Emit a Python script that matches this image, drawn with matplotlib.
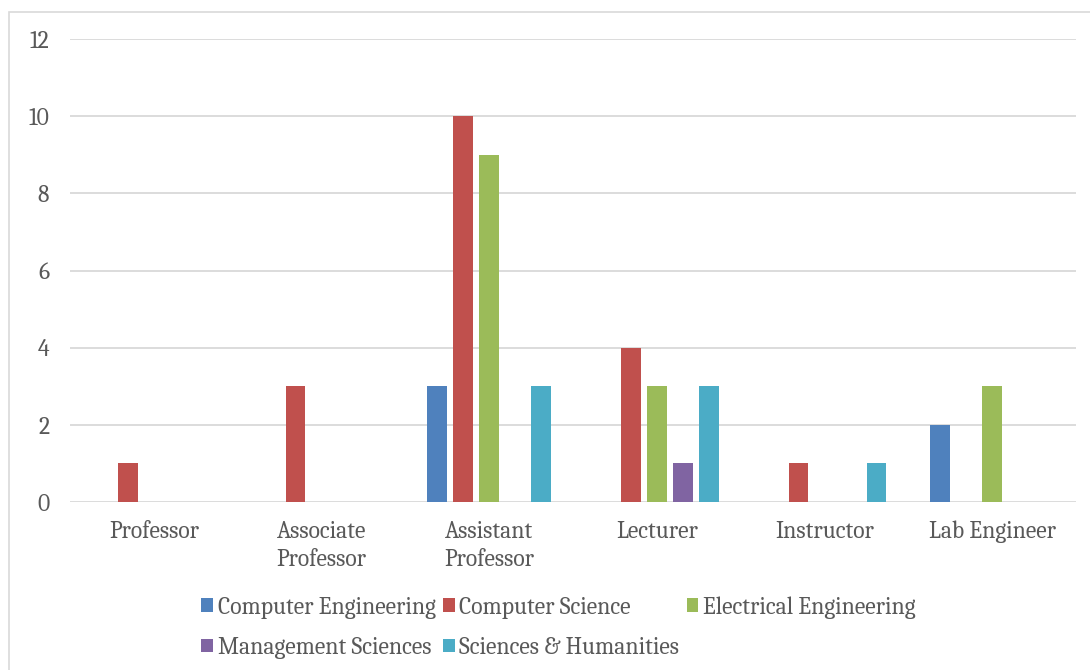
import numpy as np
import matplotlib.pyplot as plt
from matplotlib.patches import Rectangle

categories = ['Professor', 'Associate\nProfessor', 'Assistant\nProfessor',
              'Lecturer', 'Instructor', 'Lab Engineer']
series = ['Computer Engineering', 'Computer Science', 'Electrical Engineering',
          'Management Sciences', 'Sciences & Humanities']
computer_engineering = [0, 0, 3, 0, 0, 2]
computer_science = [1, 3, 10, 4, 1, 0]
electrical_engineering = [0, 0, 9, 3, 0, 3]
management_sciences = [0, 0, 0, 1, 0, 0]
sciences_humanities = [0, 0, 3, 3, 1, 0]
values = [computer_engineering, computer_science, electrical_engineering,
          management_sciences, sciences_humanities]
colors = ['#4F81BD', '#C0504D', '#9BBB59', '#8064A2', '#4BACC6']

text_color = '#595959'
grid_color = '#D9D9D9'
# Caladea is metric compatible with Cambria
plt.rcParams['font.family'] = ['Caladea', 'DejaVu Serif']

fig = plt.figure(figsize=(10.9, 6.7), dpi=100)
ax = fig.add_axes([70 / 1090, 1 - 502 / 670, 1006 / 1090, 463 / 670])

# outer chart border like the Excel frame
fig.patches.append(Rectangle((9 / 1090, -0.01), 1.05, 1 - 12 / 670 + 0.01,
                             transform=fig.transFigure, fill=False,
                             edgecolor=grid_color, linewidth=1.2))

x = np.arange(len(categories))
step = 0.155
width = 0.119
bars = []
for i, (name, vals) in enumerate(zip(series, values)):
    b = ax.bar(x + (i - 2) * step, vals, width, color=colors[i], label=name,
               zorder=3)
    bars.append(b)

ax.set_xlim(-0.5, len(categories) - 0.5)
ax.set_ylim(0, 12)
ax.set_yticks(range(0, 13, 2))
ax.yaxis.grid(True, color=grid_color, linewidth=1.3, zorder=0)
ax.set_axisbelow(True)
for s in ax.spines.values():
    s.set_visible(False)
ax.tick_params(axis='both', length=0, labelsize=17, colors=text_color)
ax.tick_params(axis='y', pad=15)
ax.tick_params(axis='x', pad=13)
ax.set_xticks(x)
ax.set_xticklabels(categories, linespacing=1.33, va='top')

# reorder so the legend fills row by row
order = [0, 3, 1, 4, 2]
leg = fig.legend([bars[i] for i in order], [series[i] for i in order],
                 loc='center', bbox_to_anchor=(0.5124, 1 - 627.5 / 670), ncol=3,
                 frameon=False, fontsize=17, handlelength=0.5, handleheight=0.5,
                 handletextpad=0.2, columnspacing=0.3, labelspacing=0.76)
for t in leg.get_texts():
    t.set_color(text_color)

fig.savefig('out.png', dpi=100)
